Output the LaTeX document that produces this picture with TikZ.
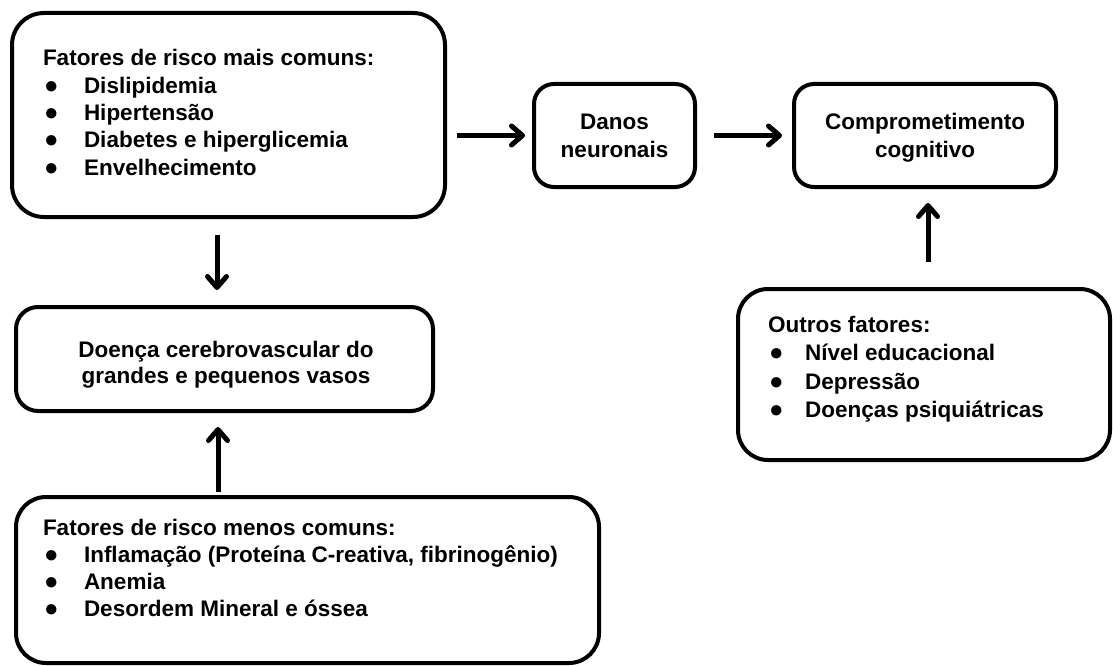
\documentclass[tikz,border=0pt]{standalone}
\usepackage{fontspec}
\setmainfont{Liberation Sans}
\usetikzlibrary{arrows.meta}
\newcommand\bitem[2]{\makebox[#1][l]{\hspace{1pt}{\fontsize{24}{24}\selectfont ●}}#2}
\begin{document}
\begin{tikzpicture}[x=1pt,y=-1pt,
  box/.style={draw=black, line width=4pt, fill=white, outer sep=0pt, inner sep=0pt, rectangle},
  lbl/.style={inner sep=0pt, outer sep=0pt, font=\fontsize{22.5}{27.3}\selectfont\bfseries},
  arr/.style={line width=5pt, -{Straight Barb[length=11pt,width=19pt,round]}}
]
\useasboundingbox[fill=white] (0,0) rectangle (1113,666);

% boxes
\node[box, rounded corners=32pt, minimum width=433pt, minimum height=204pt] (risk) at (228.5,115) {};
\node[box, rounded corners=20pt, minimum width=161pt, minimum height=103pt] (danos) at (614.5,135.5) {};
\node[box, rounded corners=20pt, minimum width=262pt, minimum height=103pt] (comp) at (925,135.5) {};
\node[box, rounded corners=22pt, minimum width=417pt, minimum height=104pt] (doenca) at (224.5,359) {};
\node[box, rounded corners=30pt, minimum width=583pt, minimum height=166pt] (menos) at (307.5,580) {};
\node[box, rounded corners=30pt, minimum width=372pt, minimum height=171pt] (outros) at (924,374.5) {};

% texts
\node[lbl, anchor=base west] (risktxt) at (43,66) {\begin{tabular}[t]{@{}l@{}}
Fatores de risco mais comuns:\\
\bitem{41pt}{Dislipidemia}\\
\bitem{41pt}{Hipertensão}\\
\bitem{41pt}{Diabetes e hiperglicemia}\\
\bitem{41pt}{Envelhecimento}
\end{tabular}};

\node[lbl, anchor=base] (danostxt) at (614.5,130) {\begin{tabular}[t]{@{}c@{}}
Danos\\ neuronais
\end{tabular}};

\node[lbl, anchor=base] (comptxt) at (925,130) {\begin{tabular}[t]{@{}c@{}}
Comprometimento\\ cognitivo
\end{tabular}};

\node[lbl, anchor=base] (doencatxt) at (226,357) {\renewcommand\arraystretch{0.96}\begin{tabular}[t]{@{}c@{}}
Doença cerebrovascular do\\ grandes e pequenos vasos
\end{tabular}};

\node[lbl, anchor=base west] (menostxt) at (43,535) {\begin{tabular}[t]{@{}l@{}}
Fatores de risco menos comuns:\\
\bitem{41pt}{Inflamação (Proteína C-reativa, fibrinogênio)}\\
\bitem{41pt}{Anemia}\\
\bitem{41pt}{Desordem Mineral e óssea}
\end{tabular}};

\node[lbl, anchor=base west] (outrostxt) at (768,332) {\renewcommand\arraystretch{1.05}\begin{tabular}[t]{@{}l@{}}
Outros fatores:\\
\bitem{37pt}{Nível educacional}\\
\bitem{37pt}{Depressão}\\
\bitem{37pt}{Doenças psiquiátricas}
\end{tabular}};

% connectors
\draw[arr, shorten <=12pt, shorten >=9pt] (risk.east |- danos.west) -- (danos.west);
\draw[arr, shorten <=19pt, shorten >=12pt] (danos.east) -- (comp.west);
\draw[arr, shorten <=18pt, shorten >=17pt] ([xshift=-7.5pt]doenca.north |- risk.south) -- ([xshift=-7.5pt]doenca.north);
\draw[arr, shorten <=5pt, shorten >=16pt] ([xshift=-6.5pt]doenca.south |- menos.north) -- ([xshift=-6.5pt]doenca.south);
\draw[arr, shorten <=27pt, shorten >=16pt] ([xshift=3pt]comp.south |- outros.north) -- ([xshift=3pt]comp.south);
\end{tikzpicture}
\end{document}
